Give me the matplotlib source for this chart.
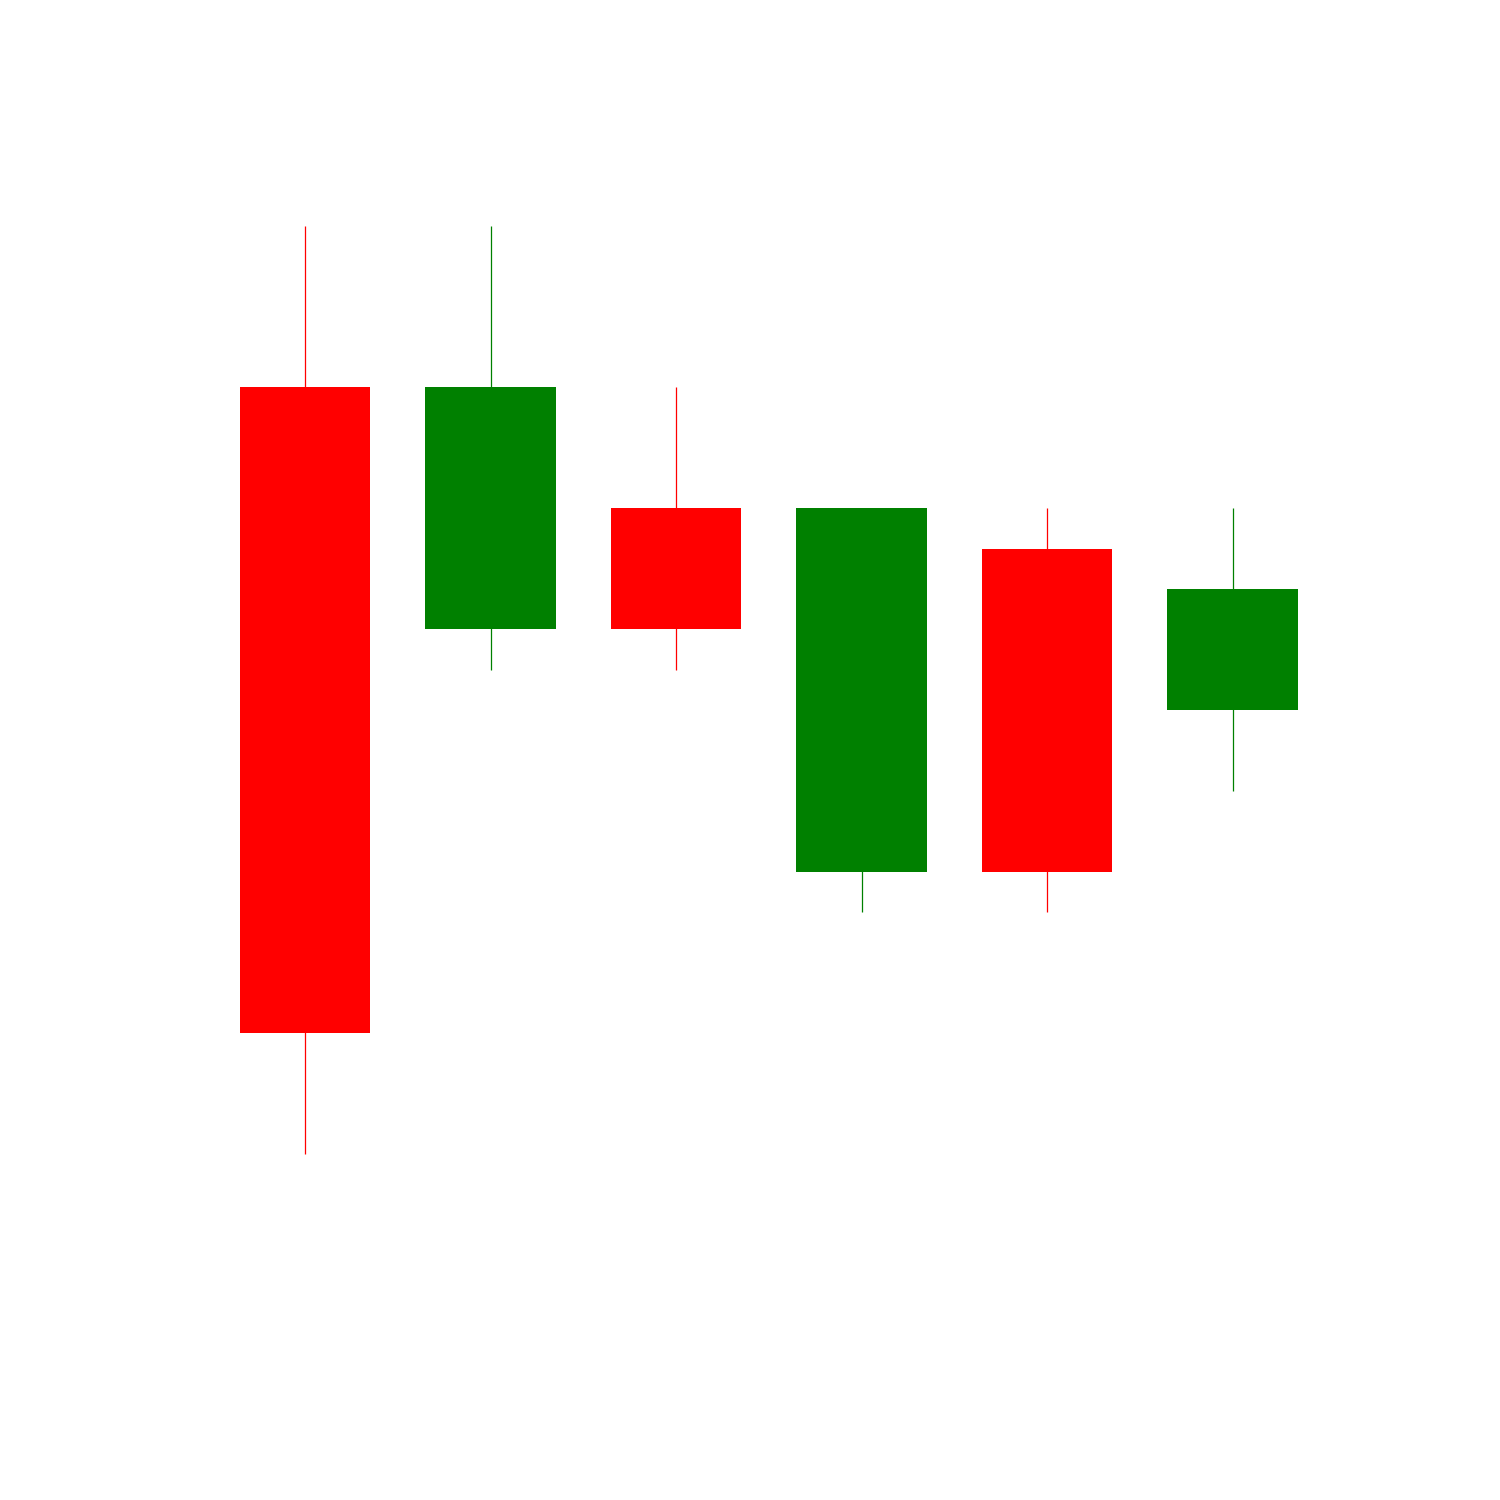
import numpy as np
import matplotlib.pyplot as plt

# ---------------------------------------------------------------- data
idx    = [0, 1, 2, 3, 4, 5]
opens  = [19, 13, 16, 7, 15, 11]
highs  = [23, 23, 19, 16, 16, 16]
lows   = [0, 12, 12, 6, 6, 9]
closes = [3, 19, 13, 16, 7, 14]

UP, DOWN = "#008000", "#ff0000"

# ---------------------------------------------------------------- plot
fig = plt.figure(figsize=(10, 10), dpi=150)
ax = fig.add_axes([0, 0, 1, 1])

x = np.array(idx, dtype=float)
o = np.array(opens, dtype=float)
c = np.array(closes, dtype=float)
colors = [UP if cc >= oo else DOWN for oo, cc in zip(o, c)]

ax.vlines(x, lows, highs, colors=colors, lw=0.6, zorder=1)
ax.bar(x, np.abs(c - o), bottom=np.minimum(o, c), width=0.706,
       color=colors, edgecolor="none", zorder=2)

# pixel mapping: 185.5 px per candle, 40.35 px per unit
ax.set_xlim(-305 / 185.5, (1500 - 305) / 185.5)
ax.set_ylim(-(1500 - 1154) / 40.35, 23 + 226 / 40.35)
ax.axis("off")

fig.savefig("out.png", dpi=150, facecolor="white")
